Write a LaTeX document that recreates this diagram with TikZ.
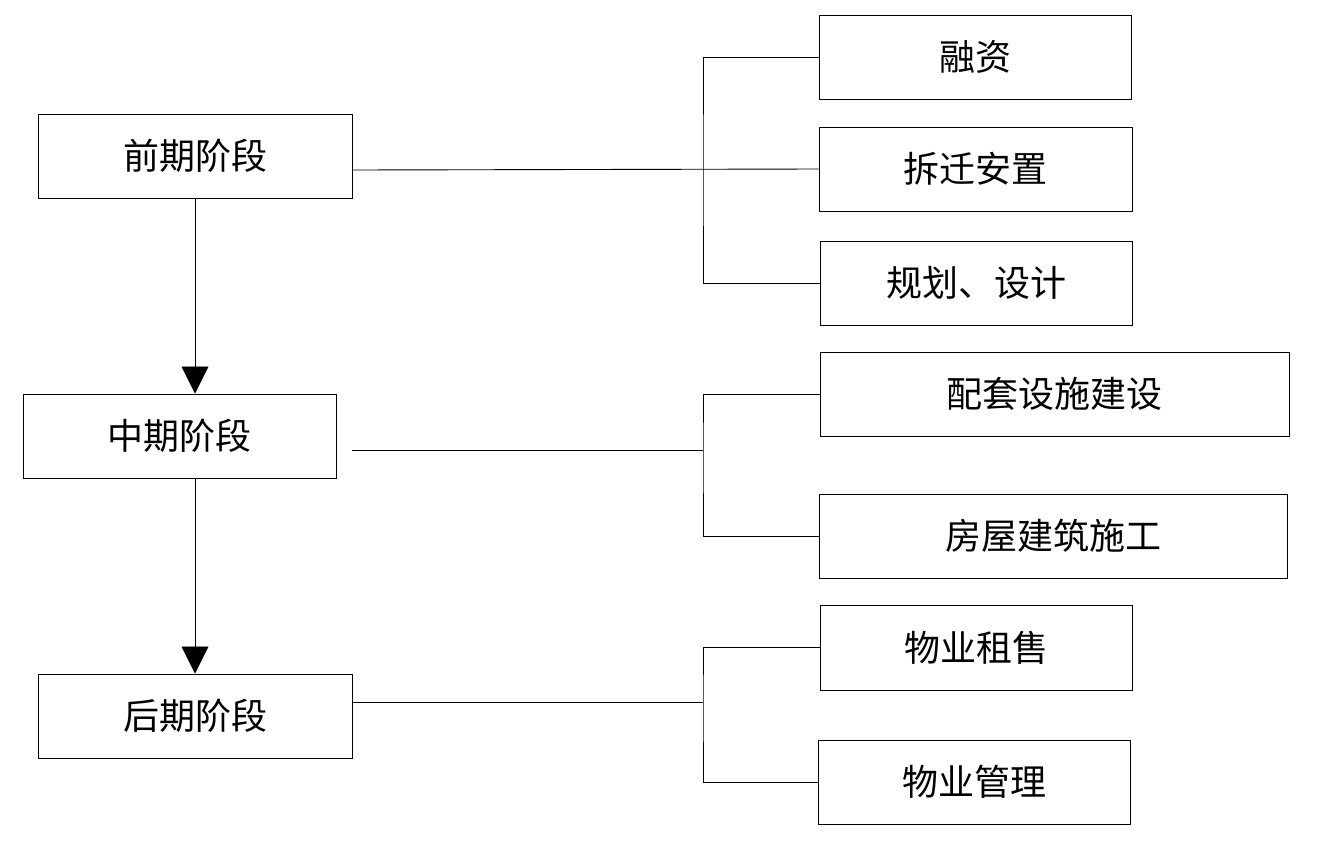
\documentclass[tikz,border=0pt]{standalone}
\usepackage{fontspec}
\newfontfamily\cjk{Noto Sans CJK SC}
\usetikzlibrary{arrows.meta}

\begin{document}
\begin{tikzpicture}[
  x=1pt, y=-1pt,
  stage/.style={draw, line width=1pt, minimum width=314pt, minimum height=84pt,
    inner sep=0pt, font=\cjk\fontsize{36}{40}\selectfont},
  task/.style={stage, minimum width=312pt},
  wide/.style={stage, minimum width=469pt},
  link/.style={line width=0.9pt},
]
\useasboundingbox (0,0) rectangle (1317,844);
% stages on the left
\node[stage] (pre) at (195,156) {前期阶段};
\node[stage, minimum width=313pt] (mid) at (179.5,436) {中期阶段};
\node[stage] (post) at (195,716) {后期阶段};
% tasks on the right
\node[task] (fin) at (975,57) {融资};
\node[task, minimum width=313pt] (move) at (975.5,169) {拆迁安置};
\node[task] (plan) at (976,283) {规划、设计};
\node[wide] (infra) at (1054.5,394) {配套设施建设};
\node[wide, minimum width=468pt] (build) at (1053,536) {房屋建筑施工};
\node[task, minimum height=85pt] (sale) at (976,647.5) {物业租售};
\node[task] (mgmt) at (974,782) {物业管理};
% junctions
\coordinate (j1) at (703,170);
\coordinate (j2) at (703,450);
\coordinate (j3) at (703,702);
\coordinate (m0) at (352,450);
% stage flow
\draw[link, -{Triangle[width=27pt, length=27pt]}] (pre.south) -- (pre.south |- mid.north);
\draw[link, -{Triangle[width=27pt, length=27pt]}] (post.north |- mid.south) -- (post.north);
% brackets
\draw[link] (fin.west) -| (j1) |- (plan.west);
\draw[link] (pre.east |- j1) -- (move.west);
\draw[link] (infra.west) -| (j2) |- (build.west);
\draw[link] (m0) -- (j2);
\draw[link] (sale.west) -| (j3) |- (mgmt.west);
\draw[link] (post.east |- j3) -- (j3);
\end{tikzpicture}
\end{document}
